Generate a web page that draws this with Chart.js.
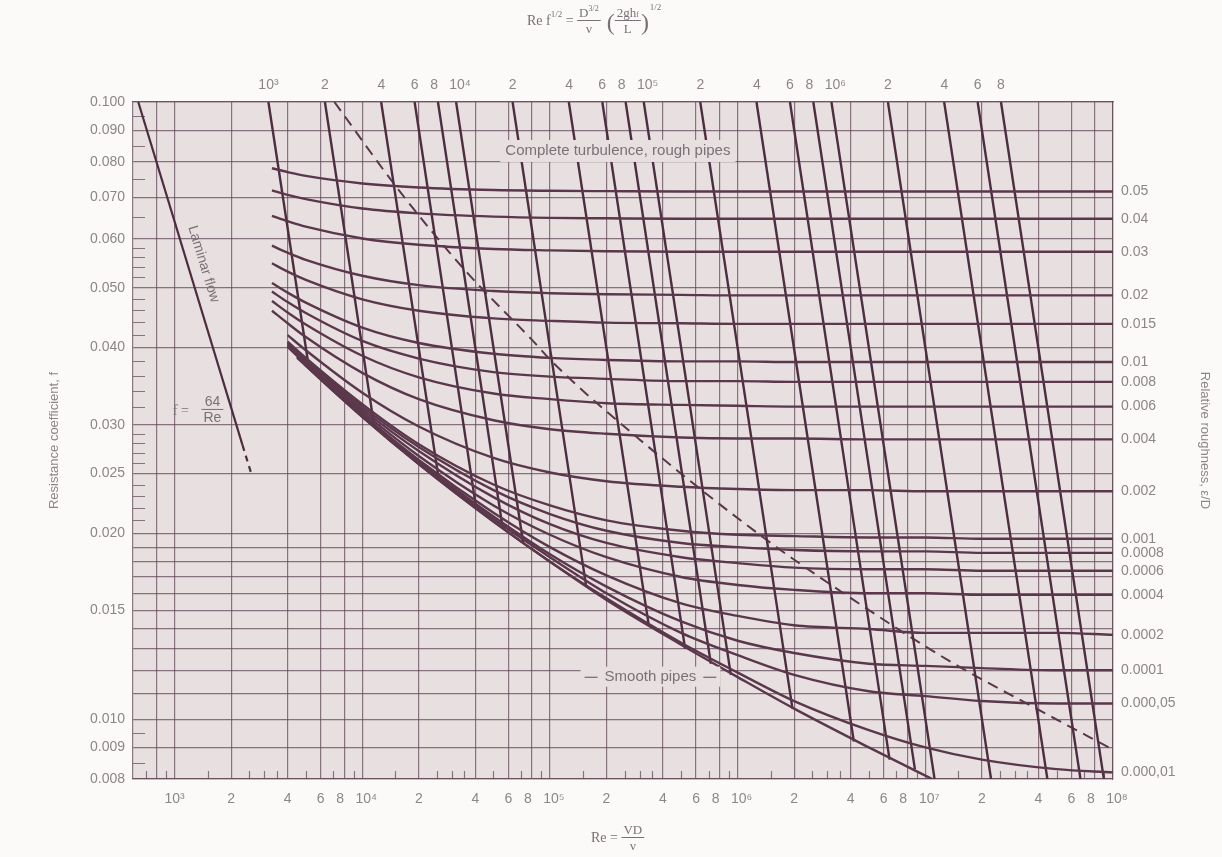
<!doctype html>
<html lang="en">
<head>
<meta charset="utf-8">
<title>Moody chart</title>
<script src="https://cdn.jsdelivr.net/npm/chart.js"></script>
<style>
  html, body { margin: 0; padding: 0; background: #fcfaf8; }
  canvas { display: block; }
</style>
</head>
<body>
<canvas id="chart" width="1222" height="857"></canvas>
<script>
const reRead = [3300, 4000, 4500, 5000, 1e4, 2e4, 5e4, 1e5, 2e5, 5e5, 1e6, 2e6, 5e6, 1e7, 2e7, 5e7, 1e8];

// relative roughness e/D of each curve (right-hand labels)
const roughnessLabels = ['0.05', '0.04', '0.03', '0.02', '0.015', '0.01', '0.008', '0.006', '0.004',
  '0.002', '0.001', '0.0008', '0.0006', '0.0004', '0.0002', '0.0001', '0.000,05', '0.000,01'];

// resistance coefficient f along each curve, at reRead
const f_005    = [0.0781, 0.0770, null, 0.0759, 0.0738, 0.0727, 0.0720, 0.0718, 0.0717, 0.0716, 0.0716, 0.0716, 0.0716, 0.0716, 0.0716, 0.0716, 0.0716];
const f_004    = [0.0719, 0.0707, null, 0.0696, 0.0672, 0.0660, 0.0652, 0.0649, 0.0648, 0.0647, 0.0647, 0.0647, 0.0647, 0.0647, 0.0647, 0.0647, 0.0647];
const f_003    = [0.0654, 0.0641, null, 0.0628, 0.0601, 0.0587, 0.0578, 0.0575, 0.0573, 0.0572, 0.0572, 0.0572, 0.0572, 0.0572, 0.0572, 0.0572, 0.0572];
const f_002    = [0.0585, 0.0570, null, 0.0555, 0.0523, 0.0505, 0.0494, 0.0490, 0.0488, 0.0487, 0.0486, 0.0486, 0.0486, 0.0486, 0.0486, 0.0486, 0.0486];
const f_0015   = [0.0548, 0.0531, null, 0.0515, 0.0479, 0.0459, 0.0446, 0.0442, 0.0439, 0.0438, 0.0437, 0.0437, 0.0437, 0.0437, 0.0437, 0.0437, 0.0437];
const f_001    = [0.0509, 0.0491, null, 0.0473, 0.0431, 0.0407, 0.0391, 0.0385, 0.0382, 0.0380, 0.0380, 0.0379, 0.0379, 0.0379, 0.0379, 0.0379, 0.0379];
const f_0008   = [0.0493, 0.0474, null, 0.0455, 0.0410, 0.0384, 0.0365, 0.0359, 0.0356, 0.0353, 0.0353, 0.0352, 0.0352, 0.0352, 0.0352, 0.0352, 0.0352];
const f_0006   = [0.0476, 0.0456, null, 0.0436, 0.0388, 0.0358, 0.0337, 0.0330, 0.0325, 0.0323, 0.0322, 0.0321, 0.0321, 0.0321, 0.0321, 0.0321, 0.0321];
const f_0004   = [0.0459, 0.0438, null, 0.0416, 0.0364, 0.0330, 0.0305, 0.0295, 0.0290, 0.0286, 0.0285, 0.0285, 0.0284, 0.0284, 0.0284, 0.0284, 0.0284];
const f_0002   = [null, 0.0419, null, 0.0396, 0.0338, 0.0298, 0.0265, 0.0251, 0.0243, 0.0238, 0.0236, 0.0235, 0.0235, 0.0234, 0.0234, 0.0234, 0.0234];
const f_0001   = [null, 0.0409, null, 0.0385, 0.0324, 0.0279, 0.0240, 0.0222, 0.0210, 0.0202, 0.0199, 0.0198, 0.0197, 0.0197, 0.0196, 0.0196, 0.0196];
const f_00008  = [null, 0.0407, null, 0.0383, 0.0321, 0.0276, 0.0235, 0.0215, 0.0202, 0.0193, 0.0190, 0.0188, 0.0187, 0.0187, 0.0186, 0.0186, 0.0186];
const f_00006  = [null, 0.0405, null, 0.0381, 0.0318, 0.0272, 0.0229, 0.0207, 0.0193, 0.0183, 0.0179, 0.0176, 0.0175, 0.0175, 0.0174, 0.0174, 0.0174];
const f_00004  = [null, 0.0403, null, 0.0378, 0.0315, 0.0267, 0.0222, 0.0199, 0.0183, 0.0170, 0.0165, 0.0162, 0.0160, 0.0160, 0.0159, 0.0159, 0.0159];
const f_00002  = [null, 0.0401, null, 0.0376, 0.0312, 0.0263, 0.0216, 0.0190, 0.0171, 0.0154, 0.0147, 0.0142, 0.0140, 0.0138, 0.0138, 0.0138, 0.0137];
const f_00001  = [null, null, 0.0387, 0.0375, 0.0310, 0.0261, 0.0213, 0.0185, 0.0164, 0.0144, 0.0134, 0.0128, 0.0123, 0.0122, 0.0121, 0.0120, 0.0120];
const f_000005 = [null, null, 0.0386, 0.0375, 0.0310, 0.0260, 0.0211, 0.0183, 0.0160, 0.0138, 0.0127, 0.0118, 0.0111, 0.0109, 0.0107, 0.0106, 0.0106];
const f_000001 = [null, null, 0.0386, 0.0374, 0.0309, 0.0259, 0.0209, 0.0180, 0.0157, 0.0133, 0.0119, 0.0107, 0.0096, 0.0090, 0.0086, 0.0083, 0.0082];
const f_smooth = [null, null, 0.0385, 0.0374, 0.0309, 0.0259, 0.0209, 0.0180, 0.0156, 0.0132, 0.0117, 0.0104, 0.0090, 0.0081, 0.0073, null, null];

const roughCurves = [f_005, f_004, f_003, f_002, f_0015, f_001, f_0008, f_0006, f_0004,
  f_0002, f_0001, f_00008, f_00006, f_00004, f_00002, f_00001, f_000005, f_000001];

// lines of constant Re f^1/2: start at the top edge, end on the smooth-pipe curve (or bottom edge)
const steepK     = ['10³', '2×10³', '4×10³', '6×10³', '8×10³', '10⁴', '2×10⁴', '4×10⁴', '6×10⁴', '8×10⁴',
  '10⁵', '2×10⁵', '4×10⁵', '6×10⁵', '8×10⁵', '10⁶', '2×10⁶', '4×10⁶', '6×10⁶', '8×10⁶'];
const steepTopRe = [3.16e3, 6.32e3, 1.26e4, 1.90e4, 2.53e4, 3.16e4, 6.32e4, 1.26e5, 1.90e5, 2.53e5,
  3.16e5, 6.32e5, 1.26e6, 1.90e6, 2.53e6, 3.16e6, 6.32e6, 1.26e7, 1.90e7, 2.53e7];
const steepTopF  = 0.100;
const steepEndRe = [5.2e3, 1.16e4, 2.56e4, 4.05e4, 5.6e4, 7.2e4, 1.56e5, 3.36e5, 5.25e5, 7.2e5,
  9.2e5, 1.96e6, 4.16e6, 6.45e6, 8.8e6, 1.12e7, 2.24e7, 4.47e7, 6.71e7, 8.94e7];
const steepEndF  = [0.0370, 0.0297, 0.0244, 0.0219, 0.0204, 0.0193, 0.0164, 0.0142, 0.0130, 0.0123,
  0.0118, 0.0104, 0.0092, 0.0086, 0.0083, 0.0080, 0.0080, 0.0080, 0.0080, 0.0080];

// dashed boundary of complete turbulence
const roughBoundRe = [7.1e3, 1.58e4, 3.6e4, 8.0e4, 1.03e5, 3.0e5, 1.4e6, 3.9e6, 1.3e7, 4.4e7, 9.5e7];
const roughBoundF  = [0.100, 0.0717, 0.0530, 0.0412, 0.0379, 0.0284, 0.0196, 0.0158, 0.0125, 0.0102, 0.0090];

// laminar flow f = 64/Re, solid then dashed tail
const laminarRe     = [640, 2300];
const laminarF      = [0.100, 0.0278];
const laminarTailRe = [2300, 2560];
const laminarTailF  = [0.0278, 0.0250];

// axes
const reMin = 600, reMax = 1e8;
const refMin = 189.7, refMax = 3.162e7;   // Re f^1/2 along the top edge (f = 0.1)
const fMin = 0.008, fMax = 0.100;

const xGridVals   = [800, 1e3, 2e3, 4e3, 6e3, 8e3, 1e4, 2e4, 4e4, 6e4, 8e4, 1e5, 2e5, 4e5, 6e5, 8e5,
  1e6, 2e6, 4e6, 6e6, 8e6, 1e7, 2e7, 4e7, 6e7, 8e7, 1e8];
const xGridLabels = ['', '10³', '2', '4', '6', '8  ', '  10⁴', '2', '4', '6', '8  ', '  10⁵', '2', '4', '6', '8  ',
  '  10⁶', '2', '4', '6', '8  ', '  10⁷', '2', '4', '6', '8  ', '  10⁸'];
const topTickVals   = [1e3, 2e3, 4e3, 6e3, 8e3, 1e4, 2e4, 4e4, 6e4, 8e4, 1e5, 2e5, 4e5, 6e5, 8e5,
  1e6, 2e6, 4e6, 6e6, 8e6];
const topTickLabels = ['10³', '2', '4', '6', '8  ', '  10⁴', '2', '4', '6', '8  ', '  10⁵', '2', '4', '6', '8  ',
  '  10⁶', '2', '4', '6', '8'];
const yGridVals   = [0.100, 0.090, 0.080, 0.070, 0.060, 0.050, 0.040, 0.030, 0.025, 0.020, 0.019, 0.018,
  0.017, 0.016, 0.015, 0.014, 0.013, 0.012, 0.011, 0.010, 0.009, 0.008];
const yGridLabels = ['0.100', '0.090', '0.080', '0.070', '0.060', '0.050', '0.040', '0.030', '0.025', '0.020', '', '',
  '', '', '0.015', '', '', '', '', '0.010', '0.009', '0.008'];
const yMinorVals = [0.095, 0.085, 0.075, 0.065, 0.058, 0.056, 0.054, 0.052, 0.048, 0.046, 0.044, 0.042,
  0.038, 0.036, 0.034, 0.032, 0.029, 0.028, 0.027, 0.026, 0.024, 0.023, 0.022, 0.021, 0.0095, 0.0085];
const xMinorSteps   = [1.5, 2.5, 3, 3.5, 5, 7, 9];
const xMinorDecades = [1e2, 1e3, 1e4, 1e5, 1e6, 1e7];

const pageBg = '#fcfaf8', plotBg = '#e8e0e0';
const gridColor = 'rgba(96,70,84,0.72)';
const curveColor = '#5a374b', steepColor = '#4d2d40';
const tickColor = '#8d8589', noteColor = '#7a7077';
const sans = "'Liberation Sans', Arial, sans-serif";
const serif = "'Liberation Serif', 'DejaVu Serif', serif";

function pts(xs, ys) {
  return xs.map((x, i) => ({ x: x, y: ys[i] })).filter(p => p.y !== null);
}

const datasets = [];
roughCurves.forEach((arr, i) => datasets.push({
  label: 'e/D = ' + roughnessLabels[i], data: pts(reRead, arr),
  borderColor: curveColor, borderWidth: 2.4, cubicInterpolationMode: 'monotone'
}));
datasets.push({ label: 'Smooth pipes', data: pts(reRead, f_smooth),
  borderColor: curveColor, borderWidth: 2.4, cubicInterpolationMode: 'monotone' });
steepTopRe.forEach((r, i) => datasets.push({
  label: 'Re f^1/2 = ' + steepK[i],
  data: [{ x: r, y: steepTopF }, { x: steepEndRe[i], y: steepEndF[i] }],
  borderColor: steepColor, borderWidth: 2.4
}));
datasets.push({ label: 'Complete turbulence boundary', data: pts(roughBoundRe, roughBoundF),
  borderColor: curveColor, borderWidth: 2, borderDash: [11, 7], cubicInterpolationMode: 'monotone' });
datasets.push({ label: 'Laminar flow', data: pts(laminarRe, laminarF), borderColor: steepColor, borderWidth: 2.2 });
datasets.push({ label: 'Laminar flow (tail)', data: pts(laminarTailRe, laminarTailF),
  borderColor: steepColor, borderWidth: 2.2, borderDash: [6, 5] });

// run of text pieces [text, size, dy]
function runWidth(ctx, parts, fam) {
  let w = 0;
  for (const p of parts) { ctx.font = p[1] + 'px ' + fam; w += ctx.measureText(p[0]).width; }
  return w;
}
function runDraw(ctx, parts, x, y, fam) {
  ctx.textAlign = 'left';
  ctx.textBaseline = 'alphabetic';
  for (const p of parts) {
    ctx.font = p[1] + 'px ' + fam;
    ctx.fillText(p[0], x, y + (p[2] || 0));
    x += ctx.measureText(p[0]).width;
  }
  return x;
}
function frac(ctx, num, den, x, y, fam) {
  const wn = runWidth(ctx, num, fam), wd = runWidth(ctx, den, fam);
  const w = Math.max(wn, wd) + 4;
  runDraw(ctx, num, x + (w - wn) / 2, y - 4, fam);
  runDraw(ctx, den, x + (w - wd) / 2, y + 12, fam);
  ctx.fillRect(x, y - 1, w, 1);
  return x + w;
}

const background = {
  id: 'background',
  beforeDraw(chart) {
    const { ctx, chartArea: a } = chart;
    ctx.save();
    ctx.fillStyle = pageBg;
    ctx.fillRect(0, 0, chart.width, chart.height);
    ctx.fillStyle = plotBg;
    ctx.fillRect(a.left, a.top, a.right - a.left, a.bottom - a.top);
    ctx.restore();
  }
};

const minorTicks = {
  id: 'minorTicks',
  beforeDatasetsDraw(chart) {
    const { ctx, chartArea: a } = chart;
    const x = chart.scales.x, y = chart.scales.y;
    ctx.save();
    ctx.strokeStyle = gridColor;
    ctx.lineWidth = 1.2;
    ctx.beginPath();
    yMinorVals.forEach(v => {
      const py = Math.round(y.getPixelForValue(v)) + 0.5;
      ctx.moveTo(a.left, py); ctx.lineTo(a.left + 12, py);
    });
    xMinorDecades.forEach(d => xMinorSteps.forEach(s => {
      const v = d * s;
      if (v <= reMin || v >= reMax) return;
      const px = Math.round(x.getPixelForValue(v)) + 0.5;
      ctx.moveTo(px, a.bottom); ctx.lineTo(px, a.bottom - 8);
    }));
    ctx.stroke();
    ctx.restore();
  }
};

const notes = {
  id: 'notes',
  afterDatasetsDraw(chart) {
    const { ctx, chartArea: a } = chart;
    const x = chart.scales.x, y = chart.scales.y;
    ctx.save();

    // Complete turbulence label
    ctx.font = '15px ' + sans;
    let t = 'Complete turbulence, rough pipes';
    let px = x.getPixelForValue(2.3e5), py = y.getPixelForValue(0.0833);
    let w = ctx.measureText(t).width;
    ctx.fillStyle = plotBg;
    ctx.fillRect(px - w / 2 - 5, py - 11, w + 10, 22);
    ctx.fillStyle = noteColor;
    ctx.textAlign = 'center'; ctx.textBaseline = 'middle';
    ctx.fillText(t, px, py);

    // Smooth pipes label
    t = 'Smooth pipes';
    px = x.getPixelForValue(3.43e5); py = y.getPixelForValue(0.01172);
    w = ctx.measureText(t).width;
    ctx.fillStyle = plotBg;
    ctx.fillRect(px - w / 2 - 24, py - 10, w + 48, 20);
    ctx.fillStyle = noteColor;
    ctx.fillText(t, px, py);
    ctx.fillRect(px - w / 2 - 20, py, 13, 1.3);
    ctx.fillRect(px + w / 2 + 7, py, 13, 1.3);

    // Laminar flow label, along the laminar line
    const x1 = x.getPixelForValue(laminarRe[0]), y1 = y.getPixelForValue(laminarF[0]);
    const x2 = x.getPixelForValue(laminarRe[1]), y2 = y.getPixelForValue(laminarF[1]);
    const ang = Math.atan2(y2 - y1, x2 - x1);
    ctx.save();
    ctx.translate(x.getPixelForValue(1425), y.getPixelForValue(0.0546));
    ctx.rotate(ang);
    ctx.font = '14px ' + sans;
    ctx.fillText('Laminar flow', 0, 0);
    ctx.restore();

    // f = 64/Re
    px = x.getPixelForValue(1340); py = y.getPixelForValue(0.0317);
    runDraw(ctx, [['f', 15], [' =', 14]], px - 26, py + 5, serif);
    frac(ctx, [['64', 14]], [['Re', 14]], px + 3, py, sans);

    // top axis formula
    const cx = (a.left + a.right) / 2;
    let cxr = runDraw(ctx, [['Re f', 14], ['1/2', 9, -8], [' = ', 14]], cx - 96, 25, serif);
    cxr = frac(ctx, [['D', 13], ['3/2', 8, -6]], [['ν', 13]], cxr, 21, serif);
    cxr = runDraw(ctx, [[' (', 24]], cxr, 30, serif);
    cxr = frac(ctx, [['2gh', 13], ['f', 8, 0]], [['L', 13]], cxr, 21, serif);
    cxr = runDraw(ctx, [[')', 24]], cxr, 30, serif);
    runDraw(ctx, [['1/2', 9]], cxr + 1, 10, serif);

    // bottom axis formula
    cxr = runDraw(ctx, [['Re = ', 14]], cx - 32, 842, serif);
    frac(ctx, [['VD', 13]], [['ν', 13]], cxr, 838, serif);

    ctx.restore();
  }
};

const tickFont = { family: sans, size: 14 };

new Chart(document.getElementById('chart'), {
  type: 'line',
  data: { datasets: datasets },
  options: {
    responsive: false,
    devicePixelRatio: 1,
    animation: false,
    layout: { padding: { left: 45, right: 8, top: 0, bottom: 0 } },
    elements: { point: { radius: 0 }, line: { tension: 0 } },
    plugins: { legend: { display: false }, tooltip: { enabled: false } },
    scales: {
      x: {
        type: 'logarithmic', position: 'bottom', min: reMin, max: reMax,
        afterBuildTicks: s => { s.ticks = xGridVals.map(v => ({ value: v })); },
        afterFit: s => { s.height = 78; },
        grid: { color: gridColor, lineWidth: 1.2, drawTicks: false },
        border: { color: gridColor, width: 1.2 },
        ticks: { autoSkip: false, maxRotation: 0, padding: 12, color: tickColor, font: tickFont,
          callback: (v, i) => xGridLabels[i] }
      },
      x2: {
        type: 'logarithmic', position: 'top', min: refMin, max: refMax,
        afterBuildTicks: s => { s.ticks = topTickVals.map(v => ({ value: v })); },
        afterFit: s => { s.height = 102; },
        grid: { drawOnChartArea: false, drawTicks: false },
        border: { color: gridColor, width: 1.2 },
        ticks: { autoSkip: false, maxRotation: 0, padding: 8, color: tickColor, font: tickFont,
          callback: (v, i) => topTickLabels[i] }
      },
      y: {
        type: 'logarithmic', position: 'left', min: fMin, max: fMax,
        afterBuildTicks: s => { s.ticks = yGridVals.map(v => ({ value: v })); },
        afterFit: s => { s.width = 88; },
        grid: { color: gridColor, lineWidth: 1.2, drawTicks: false },
        border: { color: gridColor, width: 1.2 },
        ticks: { autoSkip: false, padding: 8, color: tickColor, font: tickFont,
          callback: (v, i) => yGridLabels[i] },
        title: { display: true, text: 'Resistance coefficient, f', color: tickColor,
          font: { family: sans, size: 13 }, padding: 2 }
      },
      y2: {
        type: 'logarithmic', position: 'right', min: fMin, max: fMax,
        afterBuildTicks: s => { s.ticks = roughCurves.map(a => ({ value: a[a.length - 1] })); },
        afterFit: s => { s.width = 101; },
        grid: { drawOnChartArea: false, drawTicks: false },
        border: { color: gridColor, width: 1.2 },
        ticks: { autoSkip: false, padding: 8, color: tickColor, font: tickFont,
          callback: (v, i) => roughnessLabels[i] },
        title: { display: true, text: 'Relative roughness, ε/D', color: tickColor,
          font: { family: sans, size: 13 }, padding: 2 }
      }
    }
  },
  plugins: [background, minorTicks, notes]
});
</script>
</body>
</html>
